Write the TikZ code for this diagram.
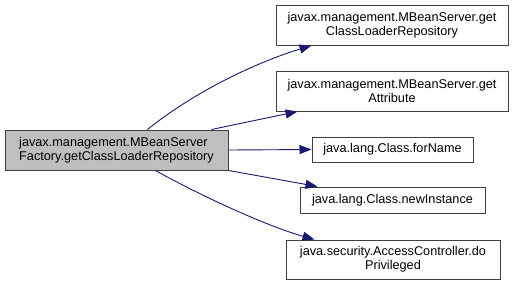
\documentclass[tikz,border=0pt]{standalone}
\usepackage{fontspec}
\setmainfont{Liberation Sans}
\usetikzlibrary{arrows.meta,calc}
\definecolor{edgeblue}{HTML}{191970}
\definecolor{boxline}{HTML}{404040}
\definecolor{boxfill}{HTML}{BFBFBF}
\begin{document}
\begin{tikzpicture}[x=1pt,y=-1pt,
  fn/.style={draw=boxline,line width=1pt,fill=white,inner sep=0pt,align=center,
    font=\fontsize{12.7}{13.6}\selectfont},
  current/.style={fn,fill=boxfill,align=left},
  call/.style={draw=edgeblue,line width=0.9pt,-{Triangle[length=12pt,width=9pt]},fill=none}]
\useasboundingbox (0,0) rectangle (515,285);
% caller
\node[current,minimum width=223,minimum height=40] (src) at (116.5,150)
  {javax.management.MBeanServer\\Factory.getClassLoaderRepository};
% callees
\node[fn,minimum width=232,minimum height=40] (repo) at (392,25)
  {javax.management.MBeanServer.get\\ClassLoaderRepository};
\node[fn,minimum width=232,minimum height=40] (attr) at (392,91)
  {javax.management.MBeanServer.get\\Attribute};
\node[fn,minimum width=161,minimum height=25] (forname) at (392.5,149.5)
  {java.lang.Class.forName};
\node[fn,minimum width=185,minimum height=26] (newinst) at (392.5,200)
  {java.lang.Class.newInstance};
\node[fn,minimum width=214,minimum height=39] (priv) at (393,259.5)
  {java.security.AccessController.do\\Privileged};
% calls
\draw[call] ($(src.north west)+(143,0)$) .. controls +(42,-34) and +(-62,19) .. ($(repo.south west)+(36,0)$);
\draw[call] ($(src.north west)+(207,0)$) -- ($(attr.south west)+(22,0)$);
\draw[call] (src.east) -- (forname.west);
\draw[call] (src.south east) -- ($(newinst.north west)+(18,0)$);
\draw[call] ($(src.south west)+(151,0)$) .. controls +(39,22) and +(-50,-14) .. ($(priv.north west)+(29,0)$);
\end{tikzpicture}
\end{document}
